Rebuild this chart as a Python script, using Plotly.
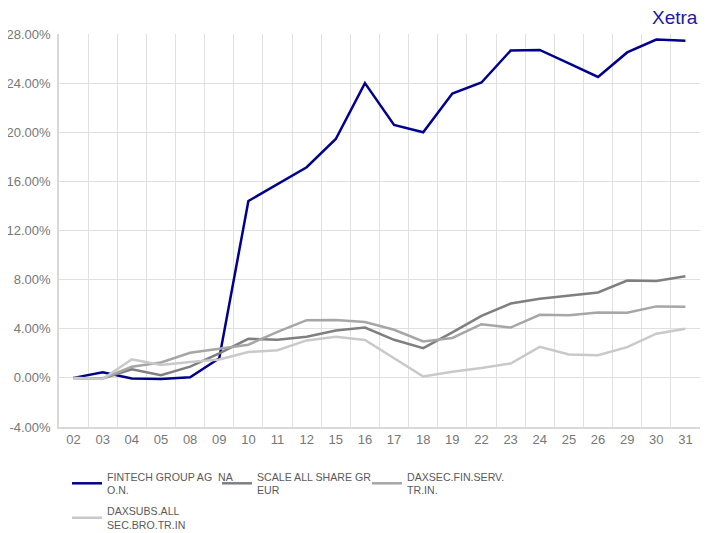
import plotly.graph_objects as go

dates = ["02","03","04","05","08","09","10","11","12","15","16","17","18","19","22","23","24","25","26","29","30","31"]
fintech = [0.0,0.45,-0.05,-0.1,0.05,1.6,14.4,15.8,17.15,19.45,24.0,20.6,20.0,23.15,24.05,26.65,26.7,25.6,24.5,26.5,27.55,27.45]
scale = [0.0,-0.05,0.7,0.22,0.92,2.0,3.18,3.1,3.35,3.85,4.1,3.1,2.42,3.7,5.05,6.05,6.45,6.7,6.95,7.92,7.88,8.27]
finserv = [0.0,-0.05,0.9,1.25,2.05,2.4,2.7,3.75,4.7,4.72,4.55,3.92,2.96,3.25,4.37,4.1,5.14,5.1,5.33,5.3,5.82,5.8]
brokers = [0.0,-0.1,1.52,1.05,1.3,1.5,2.1,2.25,3.05,3.35,3.08,1.58,0.11,0.5,0.8,1.17,2.53,1.9,1.85,2.5,3.6,4.0]
y_ticks = [-4, 0, 4, 8, 12, 16, 20, 24, 28]

names = ["FINTECH GROUP AG  NA<br>O.N.", "SCALE ALL SHARE GR<br>EUR", "DAXSEC.FIN.SERV.<br>TR.IN.", "DAXSUBS.ALL<br>SEC.BRO.TR.IN"]
colors = ["#00008b", "#7f7f7f", "#a6a6a6", "#c9c9c9"]
series = [fintech, scale, finserv, brokers]
legend_ids = ["legend", "legend", "legend", "legend2"]

fig = go.Figure()
for n, c, s, lg in zip(names, colors, series, legend_ids):
    fig.add_trace(go.Scatter(x=dates, y=s, name=n, mode="lines", legend=lg,
                             line=dict(color=c, width=2.5)))

legend_common = dict(orientation="h", xanchor="left", yanchor="top", yref="container",
                     entrywidth=105, tracegroupgap=0,
                     font=dict(size=10.6, color="#595959"))

fig.update_layout(
    width=702, height=525,
    margin=dict(l=51, r=10, t=26, b=106),
    plot_bgcolor="white", paper_bgcolor="white",
    font=dict(family="Liberation Sans, Arial, sans-serif", size=12, color="#666666"),
    showlegend=True,
    legend=dict(x=0.0125, y=0.1333, **legend_common),
    legend2=dict(x=0.0125, y=0.0676, **legend_common),
    xaxis=dict(type="category", range=[-0.5, len(dates) - 0.5], tickson="boundaries",
               showgrid=True, gridcolor="#e0e0e0", automargin=False,
               gridwidth=1, showline=True, linecolor="#d9d9d9", linewidth=1.5,
               ticks="", tickfont=dict(size=13, color="#777777"), zeroline=False),
    yaxis=dict(range=[-4, 28], tickmode="array", tickvals=y_ticks,
               ticktext=[f"{v:.2f}%" for v in y_ticks],
               showgrid=True, gridcolor="#e0e0e0", gridwidth=1, zeroline=False,
               automargin=False, ticklabelstandoff=4,
               showline=True, linecolor="#d9d9d9", linewidth=1.5,
               tickfont=dict(size=13, color="#777777")),
    annotations=[dict(text="Xetra", xref="paper", yref="paper", x=1.0, y=1.0,
                      xanchor="right", yanchor="bottom", yshift=4, showarrow=False,
                      font=dict(size=19, color="#1a1aa6"))],
)

fig.write_html("out.html")
